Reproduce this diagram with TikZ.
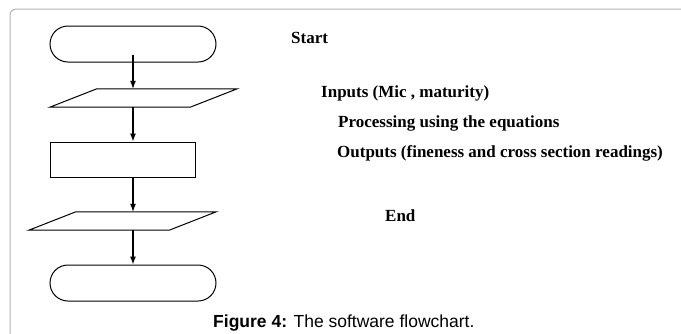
\documentclass[tikz,border=0pt]{standalone}
\usepackage{fontspec}
\setmainfont{Liberation Serif}
\newfontfamily\capfont{Liberation Sans}
\usetikzlibrary{shapes.misc,arrows.meta}

\tikzset{
  shapeline/.style={draw=black, line width=1pt},
  terminal/.style={shapeline, rounded rectangle, minimum width=166pt, minimum height=36pt, inner sep=0pt},
  % bounding box of a data (I/O) step; the slanted outline is drawn from its corners
  iobox/.style={rectangle, minimum width=187pt, minimum height=18pt, inner sep=0pt},
  procbox/.style={shapeline, rectangle, minimum width=145pt, minimum height=35pt, inner sep=0pt},
  flowarrow/.style={line width=1.1pt, -{Latex[length=8pt,width=6pt]}},
  steplabel/.style={anchor=base west, inner sep=0pt, font=\fontsize{17}{20}\selectfont\bfseries},
  framecol/.style={draw=black!30, line width=1pt}
}

\begin{document}
\begin{tikzpicture}[x=1pt,y=-1pt]
\useasboundingbox (0,0) rectangle (681,333);

% panel frame
\draw[framecol, rounded corners=6pt] (10,340) -- (10,9) -- (690,9);

% flowchart shapes
\node[terminal] (start) at (133,44) {};
\node[iobox] (input) at (143.5,98) {};
\draw[shapeline, line join=miter] (input.south west) -- ([xshift=-47pt]input.south east)
  -- (input.north east) -- ([xshift=47pt]input.north west) -- cycle;
\node[procbox] (proc) at (122.5,159.5) {};
\node[iobox] (output) at (122.5,221) {};
\draw[shapeline, line join=miter] (output.south west) -- ([xshift=-47pt]output.south east)
  -- (output.north east) -- ([xshift=47pt]output.north west) -- cycle;
\node[terminal] (stop) at (133,283) {};

% connectors
\draw[flowarrow] ([yshift=8pt]start.south) -- (start.south |- input.north);
\draw[flowarrow] (input.south -| start.south) -- (start.south |- proc.north);
\draw[flowarrow] (proc.south -| start.south) -- (start.south |- output.north);
\draw[flowarrow] (output.south -| start.south) -- (start.south |- stop.north);

% step labels
\node[steplabel] (lstart) at (291,43) {Start};
\node[steplabel] (linput) at (321,97) {Inputs (Mic , maturity)};
\node[steplabel] (lproc) at (338,127) {Processing using the equations};
\node[steplabel] (loutput) at (337,157) {Outputs (fineness and cross section readings)};
\node[steplabel] (lstop) at (385,221) {End};

% caption
\node[anchor=base west, inner sep=0pt, font=\capfont\fontsize{17.5}{20}\selectfont] (caption) at (213,327)
  {\textbf{Figure 4:} The software flowchart.};
\end{tikzpicture}
\end{document}
